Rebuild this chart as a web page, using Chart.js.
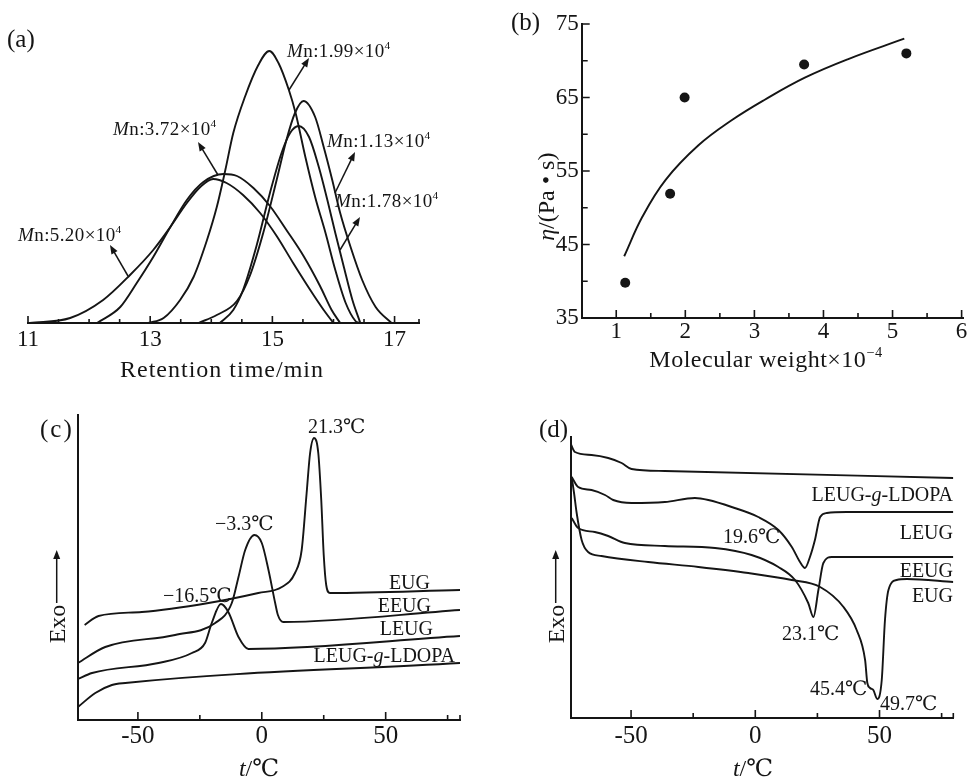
<!DOCTYPE html>
<html lang="zh">
<head>
<meta charset="UTF-8">
<title>GPC, viscosity and DSC curves</title>
<style>
  body { margin: 0; background: #fff; }
  #wrap { position: relative; width: 968px; height: 777px; overflow: hidden; background: #fff; }
  #wrap canvas { position: absolute; }
</style>
</head>
<body>
<div id="wrap">
  <canvas id="chartA" width="484" height="390" style="left:0;top:0"></canvas>
  <canvas id="chartB" width="484" height="390" style="left:484px;top:0"></canvas>
  <canvas id="chartC" width="484" height="387" style="left:0;top:390px"></canvas>
  <canvas id="chartD" width="484" height="387" style="left:484px;top:390px"></canvas>
</div>
<script src="https://cdn.jsdelivr.net/npm/chart.js"></script>
<script>
const INK = '#151515';
const SERIF = '"Liberation Serif", "DejaVu Serif", "Noto Sans CJK SC", serif';

// (a) GPC traces, retention time (min) / detector response (arb.)
const gpcT199 = [12.97, 13.22, 13.49, 13.71, 13.93, 14.09, 14.23, 14.36, 14.55, 14.77, 14.95, 15.10, 15.27, 15.38, 15.54, 15.70, 15.87, 16.03, 16.20, 16.36, 16.42];
const gpcR199 = [0, 5, 23, 46, 83, 116, 153, 190, 226, 258, 272, 260, 233, 210, 166, 126, 90, 53, 20, 2, 0];
const gpcT113 = [13.79, 14.09, 14.42, 14.63, 14.85, 15.07, 15.23, 15.37, 15.51, 15.70, 15.84, 15.98, 16.11, 16.28, 16.47, 16.69, 16.95];
const gpcR113 = [0, 8, 22, 47, 90, 143, 183, 210, 222, 206, 176, 143, 110, 76, 43, 16, 0];
const gpcT178 = [14.14, 14.36, 14.52, 14.74, 14.96, 15.15, 15.29, 15.43, 15.60, 15.76, 15.90, 16.03, 16.17, 16.31, 16.44];
const gpcR178 = [0, 13, 33, 77, 130, 170, 190, 197, 186, 156, 123, 90, 56, 23, 0];
const gpcT372 = [12.13, 12.51, 12.78, 13.05, 13.33, 13.60, 13.87, 14.20, 14.42, 14.69, 14.96, 15.23, 15.51, 15.78, 15.97, 16.11];
const gpcR372 = [0, 16, 40, 66, 96, 123, 141, 149, 147, 135, 117, 93, 67, 37, 13, 0];
const gpcT520 = [11.03, 11.69, 12.23, 12.67, 13.05, 13.33, 13.60, 13.82, 14.03, 14.25, 14.52, 14.80, 15.07, 15.34, 15.62, 15.84, 16.00];
const gpcR520 = [0, 5, 23, 48, 73, 96, 120, 136, 144, 140, 128, 110, 87, 60, 33, 13, 0];
const gpcTicks = [11, 13, 15, 17];
const gpcMinor = [11.5, 12, 12.5, 13.5, 14, 14.5, 15.5, 16, 16.5, 17.4];

// (b) viscosity vs molecular weight
const mwX = [1.13, 1.78, 1.99, 3.72, 5.20];
const etaY = [39.8, 51.9, 65.0, 69.5, 71.0];
const fitX = [1.115, 1.38, 1.715, 2.19, 2.67, 3.15, 3.73, 4.35, 5.17];
const fitY = [43.4, 48.8, 53.8, 58.5, 61.9, 64.7, 67.7, 70.2, 73.0];
const mwTicks = [1, 2, 3, 4, 5, 6];
const mwMinor = [1.5, 2.5, 3.5, 4.5, 5.5];
const etaTicks = [35, 45, 55, 65, 75];
const etaMinor = [40, 50, 60, 70];

// (c) DSC cooling, t (°C) / heat flow (arb.)
const cT_EUG = [-71.5, -65.9, -48.4, -21.5, -1.4, 8.1, 13.4, 16.1, 18.1, 19.5, 21.1, 22.8, 24.0, 25.0, 26.0, 27.5, 80];
const cH_EUG = [95, 104, 108, 117, 127, 133, 147, 170, 227, 267, 282, 267, 220, 165, 135, 127, 130];
const cT_EEUG = [-74.2, -63.2, -35, -18.8, -12.1, -9.4, -6.7, -3.0, 0, 2.7, 5.4, 6.5, 8.7, 80];
const cH_EEUG = [57, 73, 85, 97, 117, 143, 170, 185, 177, 150, 117, 105, 98, 110];
const cT_LEUG = [-74.2, -68.5, -41.7, -28.2, -22.9, -20.2, -16.5, -13.5, -9.4, -5.4, 80];
const cH_LEUG = [41, 47, 57, 67, 77, 97, 116, 108, 83, 71, 84];
const cT_LDOPA = [-74.2, -67.2, -60.5, -55.1, 80];
const cH_LDOPA = [13, 27, 35, 37, 57];

// (d) DSC heating
const dT_LDOPA = [-74.6, -72.6, -65.9, -59.2, -53.8, -49.8, -36.4, 79.7];
const dH_LDOPA = [276, 266, 263, 260, 255, 249, 247, 240];
const dT_LEUG = [-73.9, -71.3, -65.9, -60.5, -57.2, -49.8, -36.4, -24.3, -18.9, -9.5, 1.2, 9.3, 14.7, 18.0, 20.0, 22.0, 24.0, 26.1, 28.8, 36.8, 79.7];
const dH_LEUG = [241, 231, 228, 223, 218, 215, 216, 220, 218, 211, 201, 188, 171, 156, 150, 161, 178, 201, 205, 206, 206];
const dT_EEUG = [-73.9, -71.3, -64.6, -59.2, -52.5, -36.4, -16.2, -1.5, 9.3, 16.0, 21.3, 23.4, 25.4, 27.4, 30.8, 79.7];
const dH_EEUG = [200, 190, 186, 182, 175, 172, 170, 163, 151, 138, 115, 101, 128, 155, 161, 161];
const dT_EUG = [-73.9, -72.9, -71.9, -69.9, -67.3, -61.9, -43.1, -22.9, -2.8, 14.7, 26.1, 35.5, 40.8, 44.2, 45.1, 46.2, 47.5, 49.1, 50.9, 52.2, 53.6, 56.9, 61, 79.7];
const dH_EUG = [241, 224, 205, 178, 166, 162, 156, 151, 145, 138, 131, 111, 88, 58, 35, 30, 28, 19, 38, 98, 128, 138, 139, 136];
const tTicks = [-50, 0, 50];
const tMinorC = [-25, 25, 75, 80];
const tMinorD = [-25, 25, 75, 79.7];

function pts(xs, ys) { return xs.map((x, i) => ({ x: x, y: ys[i] })); }

function curve(xs, ys) {
  return { data: pts(xs, ys), showLine: true, pointRadius: 0, borderColor: INK, borderWidth: 1.9,
           cubicInterpolationMode: 'monotone', fill: false };
}

// text with italic / superscript pieces: parts = [[text, 'i'|'s'|'']]
function rich(ctx, parts, x, y, size, align, spacing) {
  ctx.letterSpacing = (spacing || 0) + 'px';
  let w = 0;
  const runs = parts.map(([t, st]) => {
    const sz = st === 's' ? size * 0.6 : size;
    const f = (st === 'i' ? 'italic ' : '') + sz + 'px ' + SERIF;
    ctx.font = f;
    const pw = ctx.measureText(t).width;
    w += pw;
    return { t, f, pw, dy: st === 's' ? -size * 0.42 : 0 };
  });
  let cx = align === 'right' ? x - w : align === 'center' ? x - w / 2 : x;
  ctx.textAlign = 'left';
  ctx.textBaseline = 'alphabetic';
  ctx.fillStyle = INK;
  runs.forEach(r => { ctx.font = r.f; ctx.fillText(r.t, cx, y + r.dy); cx += r.pw; });
  ctx.letterSpacing = '0px';
}

function arrow(ctx, x1, y1, x2, y2) {
  const a = Math.atan2(y2 - y1, x2 - x1), L = 9, W = 3.5;
  ctx.strokeStyle = INK; ctx.fillStyle = INK; ctx.lineWidth = 1.5;
  ctx.beginPath(); ctx.moveTo(x1, y1); ctx.lineTo(x2 - Math.cos(a) * L * 0.6, y2 - Math.sin(a) * L * 0.6); ctx.stroke();
  ctx.beginPath();
  ctx.moveTo(x2, y2);
  ctx.lineTo(x2 - L * Math.cos(a) + W * Math.sin(a), y2 - L * Math.sin(a) - W * Math.cos(a));
  ctx.lineTo(x2 - L * Math.cos(a) - W * Math.sin(a), y2 - L * Math.sin(a) + W * Math.cos(a));
  ctx.closePath(); ctx.fill();
}

// inward tick marks
function tickMarks(chart, axis, vals, len) {
  const s = chart.scales[axis], ca = chart.chartArea, ctx = chart.ctx;
  ctx.beginPath();
  vals.forEach(v => {
    const p = s.getPixelForValue(v);
    if (axis === 'x') { ctx.moveTo(p, ca.bottom); ctx.lineTo(p, ca.bottom - len); }
    else { ctx.moveTo(ca.left, p); ctx.lineTo(ca.left + len, p); }
  });
  ctx.lineWidth = 1.6; ctx.strokeStyle = INK; ctx.stroke();
}

function exo(ctx, x, yText, yTop) {
  ctx.save();
  ctx.translate(x, yText);
  ctx.rotate(-Math.PI / 2);
  rich(ctx, [['Exo', '']], 0, 8, 24, 'center');
  ctx.restore();
  arrow(ctx, x, yText - 21, x, yTop);
}

function deco(fn) {
  return { id: 'deco', afterDraw(chart) { const ctx = chart.ctx; ctx.save(); fn(chart, ctx); ctx.restore(); } };
}

function xAxis(min, max, vals, height, size, pad) {
  return {
    type: 'linear', position: 'bottom', min: min, max: max,
    afterBuildTicks: s => { s.ticks = vals.map(v => ({ value: v })); },
    afterFit: s => { s.height = height; },
    grid: { display: false, drawTicks: false },
    border: { display: true, color: INK, width: 2 },
    ticks: { color: INK, padding: pad, autoSkip: false, maxRotation: 0,
             font: { family: SERIF, size: size }, callback: v => String(v) }
  };
}

function yAxis(min, max, width, vals, size) {
  const ax = {
    type: 'linear', min: min, max: max,
    afterFit: s => { s.width = width; },
    grid: { display: false, drawTicks: false },
    border: { display: true, color: INK, width: 2 },
    ticks: { display: false }
  };
  if (vals) {
    ax.afterBuildTicks = s => { s.ticks = vals.map(v => ({ value: v })); };
    ax.ticks = { color: INK, padding: 3, autoSkip: false, font: { family: SERIF, size: size }, callback: v => String(v) };
  }
  return ax;
}

const base = {
  responsive: false, animation: false,
  plugins: { legend: { display: false }, tooltip: { enabled: false } }
};

// (a)
new Chart(document.getElementById('chartA'), {
  type: 'scatter',
  data: { datasets: [curve(gpcT520, gpcR520), curve(gpcT372, gpcR372), curve(gpcT199, gpcR199),
                     curve(gpcT178, gpcR178), curve(gpcT113, gpcR113)] },
  options: Object.assign({}, base, {
    layout: { padding: { left: 28, right: 65, top: 33, bottom: 0 } },
    scales: { x: xAxis(11, 17.4, gpcTicks, 67, 23, 3), y: { display: false, min: 0, max: 290 } }
  }),
  plugins: [deco((chart, ctx) => {
    tickMarks(chart, 'x', gpcTicks, 7);
    tickMarks(chart, 'x', gpcMinor, 4);
    const lab = (n, x, y) => rich(ctx, [['M', 'i'], ['n:' + n + '×10', ''], ['4', 's']], x, y, 19, 'left', 0.4);
    lab('1.99', 287, 57); lab('3.72', 113, 135); lab('5.20', 18, 241);
    lab('1.13', 327, 147); lab('1.78', 335, 207);
    arrow(ctx, 289, 90, 309, 58);
    arrow(ctx, 218, 175, 198, 142);
    arrow(ctx, 128, 276, 110, 245);
    arrow(ctx, 335, 193, 355, 152);
    arrow(ctx, 340, 250, 360, 217);
    rich(ctx, [['(a)', '']], 7, 47, 25, 'left');
    rich(ctx, [['Retention time/min', '']], 222, 377, 24, 'center', 1);
  })]
});

// (b)
const fitLine = curve(fitX, fitY);
fitLine.cubicInterpolationMode = 'default';
fitLine.tension = 0.4;
new Chart(document.getElementById('chartB'), {
  type: 'scatter',
  data: { datasets: [
    fitLine,
    { data: pts(mwX, etaY), pointRadius: 5, pointBackgroundColor: INK, pointBorderWidth: 0, showLine: false }
  ] },
  options: Object.assign({}, base, {
    layout: { padding: { left: 0, right: 2.3, top: 24, bottom: 0 } },
    scales: { x: xAxis(0.5, 6.02, mwTicks, 72, 23, 0), y: yAxis(35, 75, 97.7, etaTicks, 23) }
  }),
  plugins: [deco((chart, ctx) => {
    tickMarks(chart, 'x', mwTicks, 8);
    tickMarks(chart, 'x', mwMinor, 5);
    tickMarks(chart, 'y', etaTicks, 8);
    tickMarks(chart, 'y', etaMinor, 6);
    rich(ctx, [['(b)', '']], 27, 30, 25, 'left');
    rich(ctx, [['Molecular weight×10', ''], ['−4', 's']], 282, 367, 24, 'center', 0.5);
    ctx.save();
    ctx.translate(61.7, 196.7);
    ctx.rotate(-Math.PI / 2);
    rich(ctx, [['η', 'i'], ['/(Pa • s)', '']], 0, 8, 24, 'center');
    ctx.restore();
  })]
});

// (c)
new Chart(document.getElementById('chartC'), {
  type: 'scatter',
  data: { datasets: [curve(cT_EUG, cH_EUG), curve(cT_EEUG, cH_EEUG), curve(cT_LEUG, cH_LEUG), curve(cT_LDOPA, cH_LDOPA)] },
  options: Object.assign({}, base, {
    layout: { padding: { left: 0, right: 24, top: 25, bottom: 0 } },
    scales: { x: xAxis(-74.3, 80, tTicks, 57, 25, 1.5), y: yAxis(0, 305, 77.7) }
  }),
  plugins: [deco((chart, ctx) => {
    tickMarks(chart, 'x', tTicks, 8);
    tickMarks(chart, 'x', tMinorC, 5);
    rich(ctx, [['(c)', '']], 40, 47, 25, 'left', 2);
    rich(ctx, [['EUG', '']], 430, 199, 20, 'right');
    rich(ctx, [['EEUG', '']], 431, 222, 20, 'right');
    rich(ctx, [['LEUG', '']], 433, 245, 20, 'right');
    rich(ctx, [['LEUG-', ''], ['g', 'i'], ['-LDOPA', '']], 455, 272, 20, 'right');
    rich(ctx, [['21.3℃', '']], 308, 43, 20, 'left');
    rich(ctx, [['−3.3℃', '']], 215, 140, 20, 'left');
    rich(ctx, [['−16.5℃', '']], 163, 212, 20, 'left');
    exo(ctx, 56.7, 234, 160);
    rich(ctx, [['t', 'i'], ['/℃', '']], 259, 386, 24, 'center');
  })]
});

// (d)
new Chart(document.getElementById('chartD'), {
  type: 'scatter',
  data: { datasets: [curve(dT_LDOPA, dH_LDOPA), curve(dT_LEUG, dH_LEUG), curve(dT_EEUG, dH_EEUG), curve(dT_EUG, dH_EUG)] },
  options: Object.assign({}, base, {
    layout: { padding: { left: 0, right: 14.7, top: 47, bottom: 0 } },
    scales: { x: xAxis(-74.3, 79.7, tTicks, 59, 25, 3.5), y: yAxis(0, 281, 86.7) }
  }),
  plugins: [deco((chart, ctx) => {
    tickMarks(chart, 'x', tTicks, 8);
    tickMarks(chart, 'x', tMinorD, 5);
    rich(ctx, [['(d)', '']], 55, 47, 25, 'left');
    rich(ctx, [['LEUG-', ''], ['g', 'i'], ['-LDOPA', '']], 469, 111, 20, 'right');
    rich(ctx, [['LEUG', '']], 469, 149, 20, 'right');
    rich(ctx, [['EEUG', '']], 469, 187, 20, 'right');
    rich(ctx, [['EUG', '']], 469, 212, 20, 'right');
    rich(ctx, [['19.6℃', '']], 239, 153, 20, 'left');
    rich(ctx, [['23.1℃', '']], 298, 250, 20, 'left');
    rich(ctx, [['45.4℃', '']], 326, 305, 20, 'left');
    rich(ctx, [['49.7℃', '']], 396, 320, 20, 'left');
    exo(ctx, 71.7, 234, 160);
    rich(ctx, [['t', 'i'], ['/℃', '']], 269, 386, 24, 'center');
  })]
});
</script>
</body>
</html>
